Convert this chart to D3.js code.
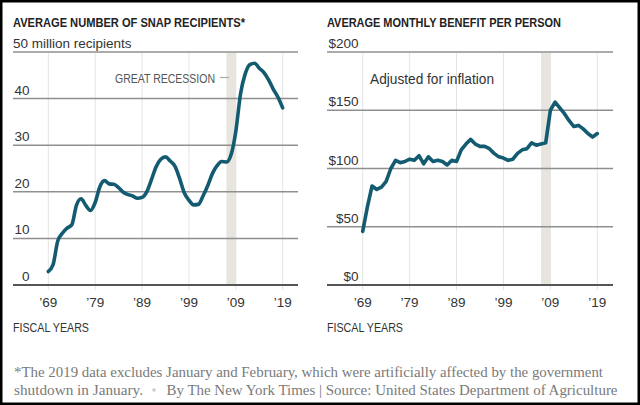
<!DOCTYPE html>
<html><head><meta charset="utf-8">
<script src="https://cdn.jsdelivr.net/npm/d3@7"></script>
<style>
html,body{margin:0;padding:0;background:#fff;}
svg{display:block;}
</style></head>
<body>
<script>
// ---------- DATA ----------
const years = [1969,1970,1971,1972,1973,1974,1975,1976,1977,1978,1979,1980,1981,1982,1983,1984,1985,1986,1987,1988,1989,1990,1991,1992,1993,1994,1995,1996,1997,1998,1999,2000,2001,2002,2003,2004,2005,2006,2007,2008,2009,2010,2011,2012,2013,2014,2015,2016,2017,2018,2019];
const recipients = [2.9,4.3,9.4,11.1,12.2,12.9,17.1,18.5,17.1,16.0,17.7,21.1,22.4,21.7,21.6,20.9,19.9,19.4,19.1,18.6,18.8,20.0,22.6,25.4,27.0,27.5,26.6,25.5,22.9,19.8,18.2,17.2,17.3,19.1,21.3,23.9,25.6,26.5,26.4,28.0,33.0,41.0,45.3,47.3,47.6,46.5,45.6,44.0,42.0,40.3,38.0];
const benefit = [46,67,85,82,84,89,100,107,105,106,108,107,111,104,110,106,107,106,103,107,106,116,121,125,121,119,119,117,113,110,109,107,108,113,116,117,122,120,121,122,150,157,152,147,141,136,137,134,130,127,130];
const xTickYears = [1969,1979,1989,1999,2009,2019];
const xTickLabels = ["\u201969","\u201979","\u201989","\u201999","\u201909","\u201919"];
const recessionYears = [2007,2009];
const leftTicks = [0,10,20,30,40,50];
const leftTickLabels = ["0","10","20","30","40","50 million recipients"];
const rightTicks = [0,50,100,150,200];
const rightTickLabels = ["$0","$50","$100","$150","$200"];
const titles = ["AVERAGE NUMBER OF SNAP RECIPIENTS*","AVERAGE MONTHLY BENEFIT PER PERSON"];
const footLine1 = "*The 2019 data excludes January and February, which were artificially affected by the government";
const footLine2a = "shutdown in January.";
const footLine2b = "By The New York Times | Source: United States Department of Agriculture";

// ---------- DRAW ----------
const W = 640, H = 405;
const svg = d3.select("body").append("svg").attr("width", W).attr("height", H);
svg.append("rect").attr("width", W).attr("height", H).attr("fill", "#fff");

const sans = "'Liberation Sans', Arial, Helvetica, sans-serif";
const serif = "'Liberation Serif', 'DejaVu Serif', Georgia, serif";
const lineColor = "#135b70";

function panel(cfg) {
  const g = svg.append("g");
  const x = d3.scaleLinear().domain([1969, 2019]).range([cfg.x69, cfg.x19]);
  const y = d3.scaleLinear().domain(cfg.domain).range([285, 52]);

  // recession shade
  g.append("rect")
    .attr("x", x(recessionYears[0])).attr("width", x(recessionYears[1]) - x(recessionYears[0]))
    .attr("y", y(cfg.domain[1]) + 1).attr("height", y(cfg.domain[0]) - y(cfg.domain[1]) - 1)
    .attr("fill", "#e7e5de");

  // vertical grid
  g.selectAll(".vg").data(xTickYears).enter().append("line")
    .attr("x1", d => x(d)).attr("x2", d => x(d))
    .attr("y1", y(cfg.domain[1]) + 1).attr("y2", y(cfg.domain[0]) + 5)
    .attr("stroke", "#e4e4e4").attr("stroke-width", 1);

  // horizontal grid
  g.selectAll(".hg").data(cfg.ticks).enter().append("line")
    .attr("x1", cfg.gx0).attr("x2", cfg.gx1)
    .attr("y1", d => y(d)).attr("y2", d => y(d))
    .attr("stroke", d => d === 0 ? "#555" : "#8f8f8f")
    .attr("stroke-width", d => d === 0 ? 2 : 1.5);

  // y labels
  g.selectAll(".yl").data(cfg.ticks).enter().append("text")
    .attr("x", (d, i) => cfg.labelX)
    .attr("y", d => y(d) - 4)
    .attr("text-anchor", (d, i) => cfg.tickLabels[i].length > 5 ? "start" : "end")
    .attr("dx", (d, i) => cfg.tickLabels[i].length > 5 ? cfg.longDx : 0)
    .attr("font-family", sans).attr("font-size", 13.5).attr("fill", "#333")
    .text((d, i) => cfg.tickLabels[i]);

  // x labels
  g.selectAll(".xl").data(xTickYears).enter().append("text")
    .attr("x", d => x(d)).attr("y", 307)
    .attr("text-anchor", "middle")
    .attr("font-family", sans).attr("font-size", 13.5).attr("fill", "#333")
    .text((d, i) => xTickLabels[i]);

  g.append("text").attr("x", cfg.gx0).attr("y", 332)
    .attr("font-family", sans).attr("font-size", 12).attr("fill", "#333")
    .attr("textLength", 76).attr("lengthAdjust", "spacingAndGlyphs")
    .text("FISCAL YEARS");

  // title
  g.append("text").attr("x", cfg.gx0).attr("y", 27)
    .attr("font-family", sans).attr("font-size", 12.5).attr("font-weight", "bold").attr("fill", "#222")
    .attr("textLength", cfg.titleLen).attr("lengthAdjust", "spacingAndGlyphs")
    .text(cfg.title);

  // line
  const line = d3.line().x((d, i) => x(years[i])).y(d => y(d)).curve(cfg.curve);
  g.append("path").datum(cfg.values).attr("d", line)
    .attr("fill", "none").attr("stroke", lineColor).attr("stroke-width", 3.6)
    .attr("stroke-linejoin", "round").attr("stroke-linecap", "round");
  return {g, x, y};
}

const L = panel({x69: 48.3, x19: 282.7, gx0: 13, gx1: 298, domain: [0, 50], ticks: leftTicks,
  tickLabels: leftTickLabels, labelX: 29.5, longDx: -16.5, title: titles[0], titleLen: 232,
  values: recipients, curve: d3.curveMonotoneX});
const R = panel({x69: 362.7, x19: 597.3, gx0: 327, gx1: 613, domain: [0, 200], ticks: rightTicks,
  tickLabels: rightTickLabels, labelX: 358.5, longDx: 0, title: titles[1], titleLen: 234,
  values: benefit, curve: d3.curveLinear});

// annotations
L.g.append("text").attr("x", 115).attr("y", 83)
  .attr("font-family", sans).attr("font-size", 12).attr("fill", "#555")
  .attr("textLength", 100).attr("lengthAdjust", "spacingAndGlyphs")
  .text("GREAT RECESSION");
L.g.append("line").attr("x1", 220).attr("x2", 229).attr("y1", 77.5).attr("y2", 77.5)
  .attr("stroke", "#aaa").attr("stroke-width", 1.2);

R.g.append("text").attr("x", 370).attr("y", 84)
  .attr("font-family", sans).attr("font-size", 14).attr("fill", "#333")
  .attr("textLength", 124).attr("lengthAdjust", "spacingAndGlyphs")
  .text("Adjusted for inflation");

// footnote
svg.append("text").attr("x", 14).attr("y", 377)
  .attr("font-family", serif).attr("font-size", 14).attr("fill", "#7a7a7a")
  .attr("textLength", 589).attr("lengthAdjust", "spacingAndGlyphs")
  .text(footLine1);
svg.append("text").attr("x", 14).attr("y", 395)
  .attr("font-family", serif).attr("font-size", 14).attr("fill", "#7a7a7a")
  .attr("textLength", 129).attr("lengthAdjust", "spacingAndGlyphs")
  .text(footLine2a);
svg.append("circle").attr("cx", 154).attr("cy", 390).attr("r", 1.8).attr("fill", "#ccc");
svg.append("text").attr("x", 166.5).attr("y", 395)
  .attr("font-family", serif).attr("font-size", 14).attr("fill", "#7a7a7a")
  .attr("textLength", 451).attr("lengthAdjust", "spacingAndGlyphs")
  .text(footLine2b);

// frame
svg.append("rect").attr("x", 1.25).attr("y", 1.25).attr("width", W - 2.5).attr("height", H - 2.5)
  .attr("fill", "none").attr("stroke", "#000").attr("stroke-width", 2.5);
</script>
</body></html>
